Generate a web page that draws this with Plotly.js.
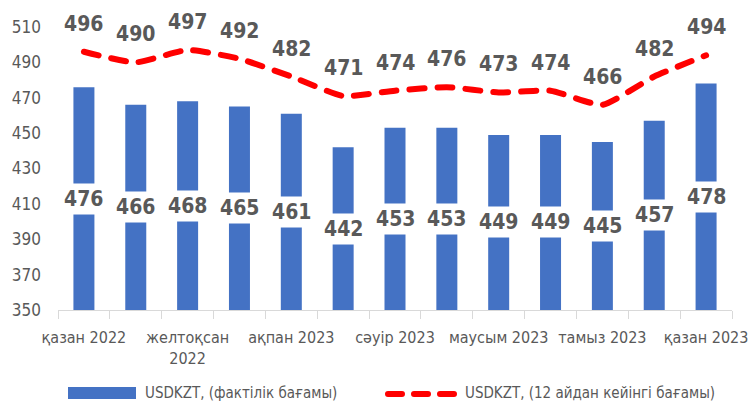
<!DOCTYPE html>
<html><head><meta charset="utf-8">
<script src="https://cdn.plot.ly/plotly-3.0.1.min.js"></script>
<style>
body{margin:0;background:#fff}
#chart{width:750px;height:405px}
.scatterlayer path.js-line{stroke-linecap:round}
.shapelayer path{stroke-linecap:round}
</style></head><body>
<div id="chart"></div>
<script>
const categories = ["қазан 2022","қараша 2022","желтоқсан 2022","қаңтар 2023","ақпан 2023","наурыз 2023","сәуір 2023","мамыр 2023","маусым 2023","шілде 2023","тамыз 2023","қыркүйек 2023","қазан 2023"];
const tickLabels = ["қазан 2022","","желтоқсан<br>2022","","ақпан 2023","","сәуір 2023","","маусым 2023","","тамыз 2023","","қазан 2023"];
const actual = [476,466,468,465,461,442,453,453,449,449,445,457,478];
const forecast = [496,490,497,492,482,471,474,476,473,474,466,482,494];
const seriesNames = ["USDKZT, (фактілік бағамы)","USDKZT, (12 айдан кейінгі бағамы)"];
const yMin = 350, yMax = 510;

const FONT = "'DejaVu Sans Condensed', 'Liberation Sans Narrow', 'Roboto', sans-serif";
const GREY = "#595959";
const W = 750, H = 405, M = {l:58, r:18, t:27, b:95};
const pw = W - M.l - M.r, ph = H - M.t - M.b;
const px = x => (x - M.l) / pw;
const py = y => (H - M.b - y) / ph;

const traces = [
  {type:"bar", x:categories, y:actual.map(v=>v-yMin), base:yMin, name:seriesNames[0],
   marker:{color:"#4472C4"}, hoverinfo:"skip", showlegend:false},
  {type:"scatter", mode:"lines", x:categories, y:forecast, name:seriesNames[1],
   line:{color:"#FF0000", width:6, dash:"15px,13px", shape:"spline", smoothing:0.5},
   hoverinfo:"skip", showlegend:false, cliponaxis:false}
];

const annotations = [];
categories.forEach((c,i)=>{
  annotations.push({x:c, y:(yMin+actual[i])/2, xref:"x", yref:"y", text:String(actual[i]),
    showarrow:false, bgcolor:"#ffffff", borderpad:3,
    font:{family:FONT, size:21, color:GREY, weight:"bold"}});
  annotations.push({x:c, y:forecast[i], xref:"x", yref:"y", text:String(forecast[i]),
    showarrow:false, yshift:28,
    font:{family:FONT, size:21, color:GREY, weight:"bold"}});
});
annotations.push({x:px(143), y:py(393), xref:"paper", yref:"paper", xanchor:"left", yanchor:"middle",
  text:seriesNames[0], showarrow:false, font:{family:FONT, size:15, color:GREY}});
annotations.push({x:px(463), y:py(393), xref:"paper", yref:"paper", xanchor:"left", yanchor:"middle",
  text:seriesNames[1], showarrow:false, font:{family:FONT, size:15, color:GREY}});

const shapes = [
  {type:"rect", xref:"paper", yref:"paper", x0:px(68), x1:px(136), y0:py(387), y1:py(399),
   fillcolor:"#4472C4", line:{width:0}},
  {type:"line", xref:"paper", yref:"paper", x0:px(388), x1:px(457), y0:py(394), y1:py(394),
   line:{color:"#FF0000", width:6, dash:"14px,12px"}}
];

const layout = {
  width:W, height:H, margin:M, paper_bgcolor:"#fff", plot_bgcolor:"#fff",
  showlegend:false, bargap:0.595,
  font:{family:FONT, color:GREY, size:16},
  xaxis:{type:"category", tickvals:categories, ticktext:tickLabels, tickson:"boundaries",
    ticks:"outside", ticklen:8, tickcolor:"#d9d9d9", showline:true, linecolor:"#d9d9d9",
    linewidth:1, showgrid:false, tickfont:{family:FONT, size:16, color:GREY}, tickangle:0,
    ticklabelstandoff:13},
  yaxis:{range:[yMin,yMax], dtick:20, tick0:350, showgrid:false, zeroline:false, showline:false,
    ticks:"", tickfont:{family:FONT, size:17, color:GREY}, ticklabelstandoff:16},
  annotations, shapes
};
Plotly.newPlot("chart", traces, layout, {staticPlot:true, displayModeBar:false});
</script></body></html>
